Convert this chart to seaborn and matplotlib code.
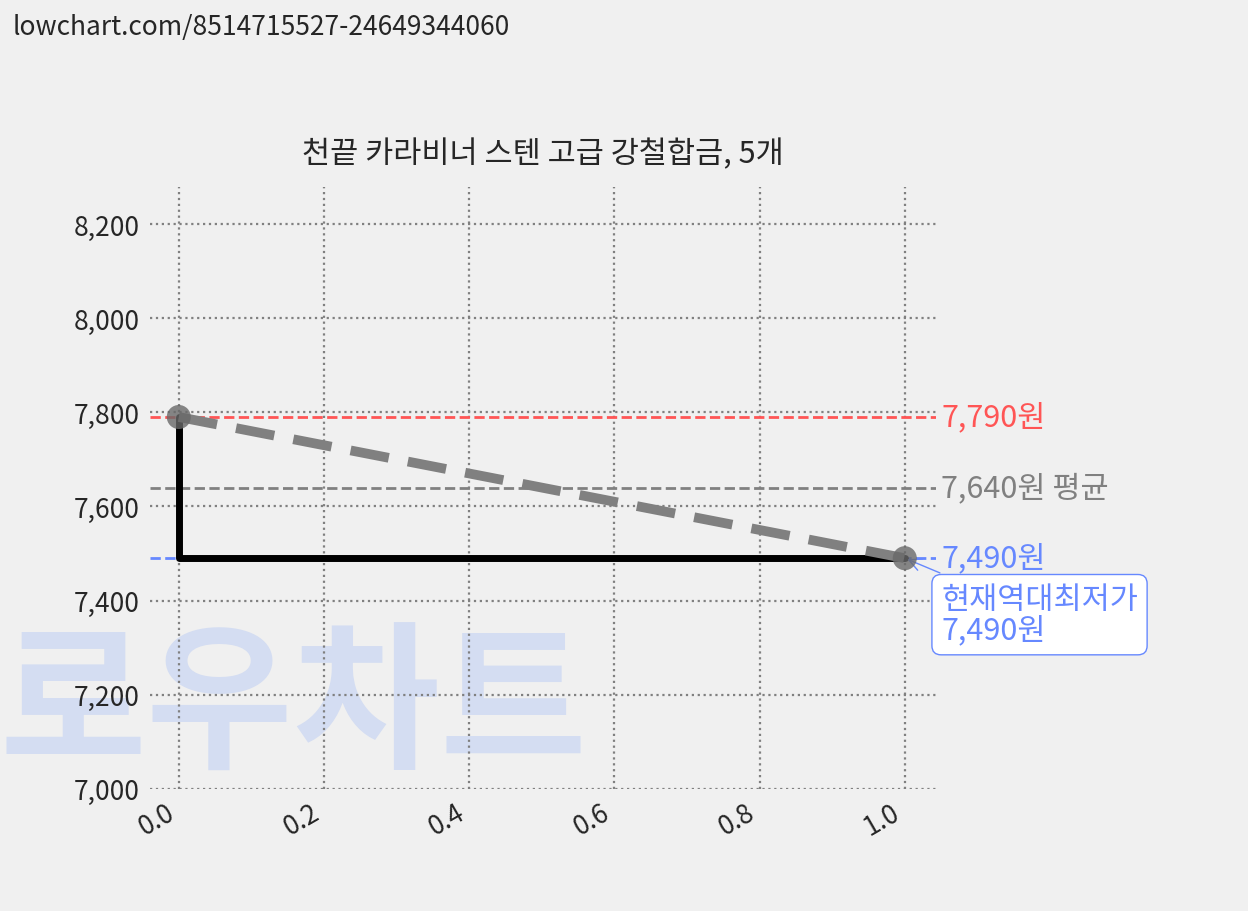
import matplotlib
matplotlib.use("Agg")
import matplotlib.pyplot as plt
import seaborn as sns
import pandas as pd

title = "천끝 카라비너 스텐 고급 강철합금, 5개"
xs = [0.0, 1.0]
prices = [7790, 7490]
max_price = 7790
avg_price = 7640
min_price = 7490

sns.set_style("white")
plt.rcParams['font.family'] = ['Noto Sans CJK KR', 'DejaVu Sans']

fig = plt.figure(figsize=(12.48, 9.12), dpi=100, facecolor='#f0f0f0')
ax = fig.add_axes([0.12, 0.134, 0.63, 0.66])
ax.set_facecolor('none')
for s in ax.spines.values():
    s.set_visible(False)

fig.text(0.01, 0.985, "lowchart.com/8514715527-24649344060", fontsize=19, va='top')
fig.text(0.0, 0.17, "로우차트", fontsize=115, fontweight='black', color='#d4ddf2', zorder=-5)

df = pd.DataFrame({'x': xs, 'price': prices})
ax.grid(True, linestyle=':', color='gray', linewidth=1.6)
ax.plot(df.x, df.price, drawstyle='steps-pre', color='black', lw=5, zorder=3)
sns.lineplot(data=df, x='x', y='price', ax=ax, color='gray', lw=7, linestyle=(0, (4, 2)), zorder=4)
sns.scatterplot(data=df, x='x', y='price', ax=ax, color='dimgray', s=300, alpha=0.8, zorder=5, edgecolor='none')

ax.axhline(max_price, color='#ff5555', ls='--', lw=2)
ax.axhline(avg_price, color='gray', ls='--', lw=2)
ax.axhline(min_price, color='#6688ff', ls='--', lw=2)
ax.text(1.05, max_price, f"{max_price:,}원", color='#ff5555', fontsize=22, va='center')
ax.text(1.05, avg_price, f"{avg_price:,}원 평균", color='gray', fontsize=22, va='center')
ax.text(1.05, min_price, f"{min_price:,}원", color='#6688ff', fontsize=22, va='center')
ax.annotate(f"현재역대최저가\n{min_price:,}원", xy=(1.0, min_price), xytext=(1.05, 7370),
            color='#6688ff', fontsize=22, va='center', linespacing=1.0,
            bbox=dict(boxstyle='round', fc='white', ec='#6688ff'),
            arrowprops=dict(arrowstyle='->', color='#6688ff'))

ax.set_xlim(-0.04, 1.043)
ax.set_ylim(7000, 8279)
ax.set_yticks(range(7000, 8201, 200))
ax.set_yticklabels([f"{v:,}" for v in range(7000, 8201, 200)])
ax.set_xticks([0, 0.2, 0.4, 0.6, 0.8, 1.0])
ax.tick_params(labelsize=19)
plt.setp(ax.get_xticklabels(), rotation=30, ha='right')
ax.set_xlabel('')
ax.set_ylabel('')
ax.set_title(title, fontsize=22, pad=18)

fig.savefig('out.png', dpi=100, facecolor=fig.get_facecolor())
